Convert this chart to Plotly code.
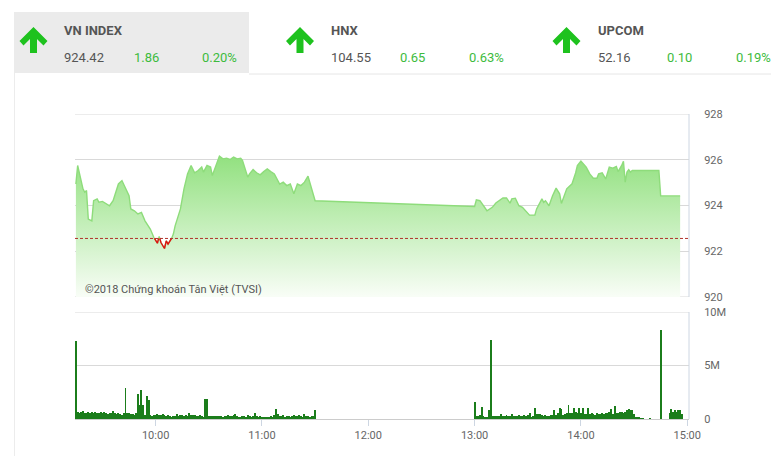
import plotly.graph_objects as go
import pandas as pd

# ---------------- data ----------------
DAY = "2018-09-10"
price_times = [
    "09:15", "09:16", "09:19", "09:20", "09:21", "09:22", "09:24", "09:25", "09:27", "09:28",
    "09:30", "09:32", "09:34", "09:36", "09:39", "09:41", "09:43", "09:45", "09:46", "09:48",
    "09:50", "09:52", "09:54", "09:57", "09:59", "10:01", "10:02", "10:03", "10:05", "10:06",
    "10:07", "10:09", "10:10", "10:11", "10:14", "10:16", "10:18", "10:20", "10:22", "10:24",
    "10:26", "10:27", "10:29", "10:31", "10:32", "10:34", "10:36", "10:38", "10:40", "10:42",
    "10:44", "10:46", "10:48", "10:49", "10:52", "10:53", "10:55", "10:57", "10:59", "11:01",
    "11:03", "11:05", "11:07", "11:10", "11:12", "11:14", "11:16", "11:18", "11:20", "11:22",
    "11:24", "11:26", "11:28", "11:30",
    "13:00", "13:01", "13:03", "13:07", "13:10", "13:12", "13:16", "13:18", "13:20", "13:21",
    "13:23", "13:25", "13:27", "13:29", "13:31", "13:34", "13:35", "13:38", "13:39", "13:40",
    "13:42", "13:44", "13:46", "13:48", "13:49", "13:52", "13:55", "13:57", "13:58", "14:00",
    "14:02", "14:03", "14:05", "14:07", "14:09", "14:10", "14:12", "14:14", "14:16", "14:18",
    "14:20", "14:21", "14:23", "14:24", "14:25", "14:26", "14:27", "14:28", "14:29", "14:44",
    "14:45", "14:56",
]
price_values = [
    924.94, 925.75, 924.73, 924.58, 924.65, 923.41, 923.33, 924.21, 924.29, 924.14,
    924.18, 924.07, 923.99, 924.21, 924.94, 925.09, 924.73, 924.43, 923.85, 923.77,
    923.63, 923.70, 923.33, 922.97, 922.60, 922.35, 922.65, 922.38, 922.12, 922.45,
    922.31, 922.56, 922.75, 923.11, 923.85, 924.73, 925.38, 925.75, 925.43, 925.53,
    925.68, 925.46, 925.75, 925.68, 925.31, 925.75, 926.16, 926.04, 926.07, 926.01,
    926.12, 926.04, 926.07, 925.97, 925.24, 925.38, 925.57, 925.43, 925.34, 925.48,
    925.60, 925.48, 925.38, 924.94, 925.02, 924.87, 924.94, 924.51, 924.94, 924.87,
    925.02, 925.28, 924.73, 924.21,
    923.96, 924.25, 924.21, 923.77, 923.92, 924.11, 924.33, 924.33, 924.10, 924.29,
    924.32, 923.99, 923.92, 923.73, 923.58, 923.58, 923.85, 924.29, 924.14, 924.21,
    923.99, 924.43, 924.76, 924.51, 924.09, 924.73, 924.95, 925.42, 925.75, 925.94,
    925.75, 925.68, 925.38, 925.19, 925.19, 925.38, 925.43, 925.16, 925.68, 925.63,
    925.71, 925.48, 925.75, 925.93, 925.02, 925.46, 925.57, 925.46, 925.53, 925.53,
    924.42, 924.42,
]
ref_close = 922.56

# volume per minute, in millions of shares
vol_am_start = "09:15"
vol_am = [
    7.3,
    0.65, 0.55, 0.7, 0.75, 0.6, 0.55, 0.65, 0.6, 0.65,
    0.6, 0.7, 0.55, 0.6, 0.65, 0.55, 0.7, 0.6, 0.5, 0.6,
    0.55, 0.75, 0.6, 0.45, 0.6, 0.5, 0.35, 0.55,
    2.9,
    0.6, 0.55, 0.45, 0.45, 0.4, 0.55,
    2.35, 1.3, 2.7, 1.3, 0.35, 2.15, 1.8,
    0.35, 0.3, 0.4, 0.35, 0.45, 0.4, 0.35, 0.45, 0.4, 0.3, 0.35, 0.25, 0.2, 0.3, 0.25,
    0.45, 0.3, 0.35, 0.4, 0.25, 0.35, 0.3,
    0.6,
    0.4, 0.35, 0.4, 0.3, 0.25, 0.35, 0.3, 0.2,
    1.85, 1.9,
    0.3, 0.3, 0.3, 0.3, 0.3, 0.25, 0.3, 0.25, 0.2, 0.3, 0.3, 0.35, 0.3, 0.25, 0.35,
    0.5,
    0.3, 0.15, 0.2, 0.25, 0.3, 0.2, 0.35, 0.3, 0.2, 0.25,
    0.6,
    0.25, 0.2, 0.25, 0.2, 0.2, 0.2, 0.15, 0.2, 0.3, 0.2, 0.35,
    0.95,
    0.45, 0.3, 0.25, 0.35, 0.2, 0.3, 0.25, 0.2, 0.3, 0.35, 0.3, 0.25, 0.35, 0.25, 0.2,
    0.45, 0.25, 0.25, 0.2, 0.3, 0.25,
    0.85,
]
vol_pm_start = "13:00"
vol_pm = [
    1.55, 0.3, 0.3, 0.35, 1.1, 0.3, 0.2, 0.15, 0.85, 7.4,
    0.3, 0.25, 0.25, 0.3, 0.25, 0.45, 0.3, 0.3, 0.35, 0.3,
    0.25, 0.5, 0.3, 0.25, 0.3, 0.35, 0.3, 0.25, 0.4, 0.3,
    0.35, 0.6, 0.2, 0.3, 1.05, 0.5, 0.45, 0.5, 0.4, 0.3,
    0.35, 0.3, 0.3, 0.4, 0.35, 0.85, 0.4, 0.6, 1.0, 0.95,
    0.4, 0.5, 0.6, 1.3, 0.55, 0.6, 1.05, 0.7, 0.6, 1.0,
    0.55, 1.05, 0.5, 0.45, 1.0, 0.5, 0.55, 0.45, 0.4, 0.6,
    0.5, 0.45, 0.55, 0.5, 0.6, 0.55, 0.7, 0.95, 0.5, 1.2,
    0.6, 0.55, 0.7, 0.65, 0.6, 0.7, 0.85, 0.9, 0.85, 0.8,
    0.45, 0.15, 0.1, 0.12, 0.08, 0.05, 0, 0, 0, 0.05,
    0, 0, 0, 0, 0, 8.3, 0, 0, 0, 0,
    0.55, 0.95, 0.7, 0.8, 0.7, 0.8, 0.8, 0.5,
]

price_ticks = [920, 922, 924, 926, 928]
vol_tickvals = [0, 5, 10]
vol_ticktext = ["0", "5M", "10M"]

indices = [
    {"name": "VN INDEX", "value": "924.42", "change": "1.86", "pct": "0.20%"},
    {"name": "HNX", "value": "104.55", "change": "0.65", "pct": "0.63%"},
    {"name": "UPCOM", "value": "52.16", "change": "0.10", "pct": "0.19%"},
]
watermark = "©2018 Chứng khoán Tân Việt (TVSI)"

# ---------------- derived ----------------
pt = pd.to_datetime([f"{DAY} {t}" for t in price_times])
vt_am = pd.date_range(f"{DAY} {vol_am_start}", periods=len(vol_am), freq="1min")
vt_pm = pd.date_range(f"{DAY} {vol_pm_start}", periods=len(vol_pm), freq="1min")
vol_t = list(vt_am) + list(vt_pm)
vol_v = vol_am + vol_pm

# red segments where price is below reference
red_x, red_y = [], []
for i in range(len(price_values) - 1):
    v0, v1 = price_values[i], price_values[i + 1]
    t0, t1 = pt[i], pt[i + 1]
    if v0 >= ref_close and v1 >= ref_close:
        continue
    def cross():
        f = (ref_close - v0) / (v1 - v0)
        return t0 + (t1 - t0) * f
    sx, sy = [], []
    if v0 < ref_close:
        sx.append(t0); sy.append(v0)
    else:
        sx.append(cross()); sy.append(ref_close)
    if v1 < ref_close:
        sx.append(t1); sy.append(v1)
    else:
        sx.append(cross()); sy.append(ref_close)
    if red_x and red_x[-1] == sx[0]:
        red_x.append(sx[1]); red_y.append(sy[1])
    else:
        if red_x:
            red_x.append(None); red_y.append(None)
        red_x += sx; red_y += sy

# ---------------- figure ----------------
# page pixel coordinates; the page body has an 8px margin
OFF = 8
PAGE_W, PAGE_H = 779, 456
W, H = PAGE_W - OFF, PAGE_H - OFF
L, R, T, B = 75, 689, 114, 419
PW, PH = R - L, B - T


def PX(x):
    return (x - L) / PW


def PY(y):
    return (B - y) / PH


FONT = "Roboto, Arial, sans-serif"
GRID = "#d9d9d9"
BORDER = "#cdd6e2"
TICKC = "#666666"

fig = go.Figure()

fig.add_trace(go.Scatter(
    x=pt, y=price_values, mode="lines",
    line=dict(color="#8edc7b", width=1.4),
    fill="tozeroy",
    fillgradient=dict(type="vertical",
                      colorscale=[[0, "#f8fdf6"], [1, "#8fe07c"]],
                      start=920, stop=926.3),
    xaxis="x", yaxis="y", hoverinfo="skip", showlegend=False,
))
fig.add_trace(go.Scatter(
    x=red_x, y=red_y, mode="lines",
    line=dict(color="#e01010", width=1.4),
    xaxis="x", yaxis="y", hoverinfo="skip", showlegend=False,
))
fig.add_trace(go.Scatter(
    x=[pd.Timestamp(f"{DAY} 09:14:30"), pd.Timestamp(f"{DAY} 15:01")],
    y=[ref_close, ref_close], mode="lines",
    line=dict(color="#b0302a", width=1, dash="3px,2px"),
    xaxis="x", yaxis="y", hoverinfo="skip", showlegend=False,
))
fig.add_trace(go.Bar(
    x=vol_t, y=vol_v, marker=dict(color="#1b7d1b", line=dict(width=0)),
    width=60000 * 0.55,
    xaxis="x2", yaxis="y2", hoverinfo="skip", showlegend=False,
))

xrange = [f"{DAY} 09:14:30", f"{DAY} 15:01"]
price_bottom = PY(297)
vol_top = PY(312)

fig.update_layout(
    width=W, height=H,
    margin=dict(l=L - OFF, r=PAGE_W - R, t=T - OFF, b=PAGE_H - B),
    paper_bgcolor="white", plot_bgcolor="white",
    font=dict(family=FONT, size=11, color=TICKC),
    bargap=0,
    xaxis=dict(domain=[0, 1], anchor="y", range=xrange, type="date",
               showticklabels=False, showgrid=False, zeroline=False,
               showline=False, ticks="", fixedrange=True),
    yaxis=dict(domain=[price_bottom, 1], range=[price_ticks[0], price_ticks[-1]],
               side="right",
               tickvals=price_ticks, ticktext=[str(v) for v in price_ticks],
               showgrid=True, gridcolor=GRID, gridwidth=1, zeroline=False,
               showline=False, ticks="outside", ticklen=12,
               tickcolor="rgba(0,0,0,0)", tickfont=dict(size=11, color=TICKC)),
    xaxis2=dict(domain=[0, 1], anchor="y2", range=xrange, type="date",
                tickformat="%H:%M", dtick=3600000, tick0=f"{DAY} 10:00",
                showgrid=False, zeroline=False, showline=True,
                linecolor="#cccccc", linewidth=1,
                ticks="outside", ticklen=6, tickcolor=BORDER,
                tickfont=dict(size=11, color=TICKC)),
    yaxis2=dict(domain=[0, vol_top], range=[vol_tickvals[0], vol_tickvals[-1]],
                side="right",
                tickvals=vol_tickvals, ticktext=vol_ticktext,
                showgrid=True, gridcolor=GRID, zeroline=False, showline=False,
                ticks="outside", ticklen=12, tickcolor="rgba(0,0,0,0)",
                tickfont=dict(size=11, color=TICKC)),
)

shapes = []
# edge gridlines (plotly hides gridlines exactly on the plot edge)
for v in (price_ticks[0], price_ticks[-1]):
    shapes.append(dict(type="line", xref="paper", yref="y", x0=0, x1=1, y0=v, y1=v,
                       line=dict(color=GRID, width=1), layer="below"))
shapes.append(dict(type="line", xref="paper", yref="y2", x0=0, x1=1,
                   y0=vol_tickvals[-1], y1=vol_tickvals[-1],
                   line=dict(color=GRID, width=1), layer="below"))
# right borders of both panels
shapes.append(dict(type="line", xref="paper", yref="paper", x0=1, x1=1,
                   y0=price_bottom, y1=1, line=dict(color=BORDER, width=1)))
shapes.append(dict(type="line", xref="paper", yref="paper", x0=1, x1=1,
                   y0=0, y1=vol_top, line=dict(color=BORDER, width=1)))
# header box & separators
shapes.append(dict(type="rect", xref="paper", yref="paper", x0=PX(14), x1=PX(249),
                   y0=PY(73), y1=PY(12), fillcolor="#ebebeb", line=dict(width=0),
                   layer="below"))
shapes.append(dict(type="line", xref="paper", yref="paper", x0=PX(249), x1=PX(779),
                   y0=PY(74), y1=PY(74), line=dict(color="#e6e6e6", width=1)))
shapes.append(dict(type="line", xref="paper", yref="paper", x0=PX(14.5), x1=PX(14.5),
                   y0=PY(73), y1=PY(456), line=dict(color="#ececec", width=1)))

# arrows
def arrow_path(cx):
    pts = [(cx, 27), (cx + 14, 41), (cx + 10, 45.5), (cx + 3.5, 39), (cx + 3.5, 53),
           (cx - 3.5, 53), (cx - 3.5, 39), (cx - 10, 45.5), (cx - 14, 41)]
    return "M" + " L".join(f"{PX(x):.5f},{PY(y):.5f}" for x, y in pts) + " Z"


arrow_x = [33.5, 300, 566.5]
for cx in arrow_x:
    shapes.append(dict(type="path", xref="paper", yref="paper", path=arrow_path(cx),
                       fillcolor="#1ec21e", line=dict(width=0)))
fig.update_layout(shapes=shapes)

annotations = []
col_x = [(62, 132, 200), (329, 398, 467), (596, 665, 734)]
for info, (xn, xc, xp) in zip(indices, col_x):
    annotations.append(dict(x=PX(xn), y=PY(30), xref="paper", yref="paper",
                            text=f"<b>{info['name']}</b>", showarrow=False,
                            xanchor="left", yanchor="middle",
                            font=dict(family=FONT, size=13, color="#555555")))
    annotations.append(dict(x=PX(xn), y=PY(57), xref="paper", yref="paper",
                            text=info["value"], showarrow=False,
                            xanchor="left", yanchor="middle",
                            font=dict(family=FONT, size=13, color="#555555")))
    annotations.append(dict(x=PX(xc), y=PY(57), xref="paper", yref="paper",
                            text=info["change"], showarrow=False,
                            xanchor="left", yanchor="middle",
                            font=dict(family=FONT, size=13, color="#3dbb3d")))
    annotations.append(dict(x=PX(xp), y=PY(57), xref="paper", yref="paper",
                            text=info["pct"], showarrow=False,
                            xanchor="left", yanchor="middle",
                            font=dict(family=FONT, size=13, color="#3dbb3d")))
annotations.append(dict(x=PX(83), y=PY(289), xref="paper", yref="paper",
                        text=watermark, showarrow=False,
                        xanchor="left", yanchor="middle",
                        font=dict(family=FONT, size=11, color="#555555")))
fig.update_layout(annotations=annotations)

fig.write_html("out.html")
